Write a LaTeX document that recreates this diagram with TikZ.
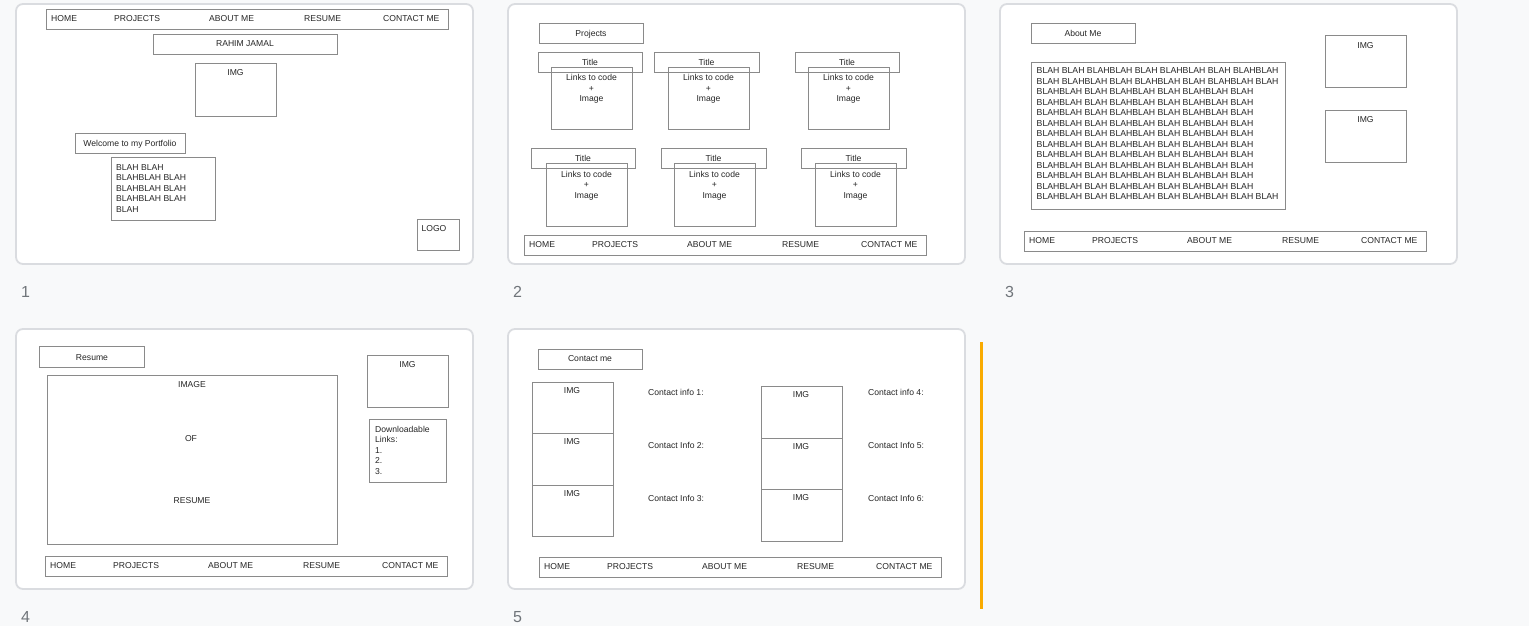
\documentclass[tikz,border=0pt]{standalone}
\usepackage{fontspec}
\setmainfont{Liberation Sans}
\usetikzlibrary{fit}
\definecolor{pagebg}{HTML}{F8F9FA}
\definecolor{slideborder}{HTML}{DADCE0}
\definecolor{boxline}{HTML}{8A8A8A}
\definecolor{txt}{HTML}{262626}
\definecolor{numgray}{HTML}{70757A}
\definecolor{accent}{HTML}{F9AB00}
\tikzset{
  slide/.style={draw=slideborder, line width=1.8pt, fill=white, rounded corners=7pt, inner sep=0pt},
  wbox/.style={draw=boxline, line width=0.9pt, inner sep=0pt},
  lbl/.style={inner sep=0pt, text=txt, font=\fontsize{8.6}{10.5}\selectfont},
  bigtxt/.style={inner sep=0pt, text=txt, font=\fontsize{8.7}{10.5}\selectfont, align=left},
  num/.style={inner sep=0pt, text=numgray, font=\fontsize{16}{16}\selectfont},
}
\newcommand\bx[5]{\node[wbox, fit={(#2,#3)(#4,#5)}] (#1) {};}
\newcommand\navbar[3]{%
  \node[wbox, fit={(#2,#3)({#2+402},{#3+20})}] (#1) {};
  \node[lbl, anchor=west] (#1-home) at ({#2+5},{#3+10}) {HOME};
  \node[lbl, anchor=west] (#1-proj) at ({#2+68},{#3+10}) {PROJECTS};
  \node[lbl, anchor=west] (#1-about) at ({#2+163},{#3+10}) {ABOUT ME};
  \node[lbl, anchor=west] (#1-resume) at ({#2+258},{#3+10}) {RESUME};
  \node[lbl, anchor=west] (#1-contact) at ({#2+337},{#3+10}) {CONTACT ME};
}
\newcommand\projcard[5]{%
  \node[wbox, fit={(#2,#3)({#2+104.5},{#3+20})}] (#1-t) {};
  \node[wbox, fit={(#4,#5)({#4+81},{#5+62.5})}] (#1-c) {};
  \node[lbl, anchor=base] (#1-tl) at ({#2+52},{#3+13.1}) {Title};
  \node[lbl, anchor=base] (#1-l1) at ({#4+40.5},{#5+13.6}) {Links to code};
  \node[lbl, anchor=base] (#1-l2) at ({#4+40.5},{#5+24.1}) {+};
  \node[lbl, anchor=base] (#1-l3) at ({#4+40.5},{#5+34.6}) {Image};
}
\begin{document}
\begin{tikzpicture}[x=1pt,y=-1pt]
\useasboundingbox (0,0) rectangle (1529,626);
\fill[pagebg] (0,0) rectangle (1529,626);

% slides
\node[slide, fit={(16,4)(473,264)}] (slide1) {};
\node[slide, fit={(508,4)(965,264)}] (slide2) {};
\node[slide, fit={(1000,4)(1457,264)}] (slide3) {};
\node[slide, fit={(16,329)(473,589)}] (slide4) {};
\node[slide, fit={(508,329)(965,589)}] (slide5) {};

\node[num, anchor=west] (n1) at (21,292) {1};
\node[num, anchor=west] (n2) at (513,292) {2};
\node[num, anchor=west] (n3) at (1005,292) {3};
\node[num, anchor=west] (n4) at (21,617) {4};
\node[num, anchor=west] (n5) at (513,617) {5};

\draw[accent, line width=2.5pt] (981.5,342) -- (981.5,609);

% ---------- slide 1
\navbar{nav1}{46}{9}
\bx{s1name}{153}{34}{337}{54}
\node[lbl] (s1namet) at (245,44) {RAHIM JAMAL};
\bx{s1img}{195}{63}{276}{116}
\node[lbl] (s1imgt) at (235.5,73) {IMG};
\bx{s1wel}{75}{133}{185}{153}
\node[lbl, anchor=base] (s1welt) at (130,146.2) {Welcome to my Portfolio};
\bx{s1blah}{111}{157}{215}{220}
\node[lbl, align=left, anchor=north west] (s1blaht) at (116,163.9) {BLAH BLAH\\BLAHBLAH BLAH\\BLAHBLAH BLAH\\BLAHBLAH BLAH\\BLAH};
\bx{s1logo}{417}{219}{459}{250}
\node[lbl] (s1logot) at (434,229) {LOGO};

% ---------- slide 2
\bx{s2head}{539}{23}{643}{43}
\node[lbl, anchor=base] (s2headt) at (591,36.1) {Projects};
\projcard{p1}{538}{52}{551}{67}
\projcard{p2}{654.5}{52}{668}{67}
\projcard{p3}{795}{52}{808}{67}
\projcard{p4}{531}{148}{546}{163.5}
\projcard{p5}{661.5}{148}{674}{163.5}
\projcard{p6}{801.5}{148}{815}{163.5}
\navbar{nav2}{524}{235}

% ---------- slide 3
\bx{s3head}{1031}{23}{1135}{43}
\node[lbl, anchor=base] (s3headt) at (1083,36.1) {About Me};
\bx{s3img1}{1325}{35}{1406}{87}
\node[lbl] (s3img1t) at (1365.5,46) {IMG};
\bx{s3img2}{1325}{110}{1406}{162}
\node[lbl] (s3img2t) at (1365.5,120) {IMG};
\bx{s3blah}{1031}{62}{1285}{209}
\node[bigtxt, anchor=north west] (s3blaht) at (1036.5,67.8) {BLAH BLAH BLAHBLAH BLAH BLAHBLAH BLAH BLAHBLAH\\
BLAH BLAHBLAH BLAH BLAHBLAH BLAH BLAHBLAH BLAH\\
BLAHBLAH BLAH BLAHBLAH BLAH BLAHBLAH BLAH\\
BLAHBLAH BLAH BLAHBLAH BLAH BLAHBLAH BLAH\\
BLAHBLAH BLAH BLAHBLAH BLAH BLAHBLAH BLAH\\
BLAHBLAH BLAH BLAHBLAH BLAH BLAHBLAH BLAH\\
BLAHBLAH BLAH BLAHBLAH BLAH BLAHBLAH BLAH\\
BLAHBLAH BLAH BLAHBLAH BLAH BLAHBLAH BLAH\\
BLAHBLAH BLAH BLAHBLAH BLAH BLAHBLAH BLAH\\
BLAHBLAH BLAH BLAHBLAH BLAH BLAHBLAH BLAH\\
BLAHBLAH BLAH BLAHBLAH BLAH BLAHBLAH BLAH\\
BLAHBLAH BLAH BLAHBLAH BLAH BLAHBLAH BLAH\\
BLAHBLAH BLAH BLAHBLAH BLAH BLAHBLAH BLAH BLAH};
\navbar{nav3}{1024}{231}

% ---------- slide 4
\bx{s4head}{39}{346}{144}{367}
\node[lbl, anchor=base] (s4headt) at (92,360) {Resume};
\bx{s4big}{47}{375}{337}{544}
\node[lbl] (s4t1) at (192,385) {IMAGE};
\node[lbl] (s4t2) at (191,438.5) {OF};
\node[lbl] (s4t3) at (192,500.3) {RESUME};
\bx{s4img}{367}{355}{448}{407}
\node[lbl] (s4imgt) at (407.5,365) {IMG};
\bx{s4dl}{369}{419}{446}{482}
\node[lbl, align=left, anchor=north west, font=\fontsize{8.6}{10.35}\selectfont] (s4dlt) at (375,426.2) {Downloadable\\Links:\\1.\\2.\\3.};
\navbar{nav4}{45}{556}

% ---------- slide 5
\bx{s5head}{538}{349}{642}{369}
\node[lbl, anchor=base] (s5headt) at (590,361.8) {Contact me};
\bx{s5a}{532}{382}{613}{433}
\bx{s5b}{532}{433}{613}{485}
\bx{s5c}{532}{485}{613}{536}
\node[lbl] (s5at) at (572,391) {IMG};
\node[lbl] (s5bt) at (572,442) {IMG};
\node[lbl] (s5ct) at (572,494) {IMG};
\bx{s5d}{761}{386}{842}{438}
\bx{s5e}{761}{438}{842}{489}
\bx{s5f}{761}{489}{842}{541}
\node[lbl] (s5dt) at (801,395) {IMG};
\node[lbl] (s5et) at (801,447) {IMG};
\node[lbl] (s5ft) at (801,498) {IMG};
\node[lbl, anchor=base west] (ci1) at (648,395.1) {Contact info 1:};
\node[lbl, anchor=base west] (ci2) at (648,448.1) {Contact Info 2:};
\node[lbl, anchor=base west] (ci3) at (648,501.1) {Contact Info 3:};
\node[lbl, anchor=base west] (ci4) at (868,395.1) {Contact info 4:};
\node[lbl, anchor=base west] (ci5) at (868,448.1) {Contact Info 5:};
\node[lbl, anchor=base west] (ci6) at (868,501.1) {Contact Info 6:};
\navbar{nav5}{539}{557}
\end{tikzpicture}
\end{document}
